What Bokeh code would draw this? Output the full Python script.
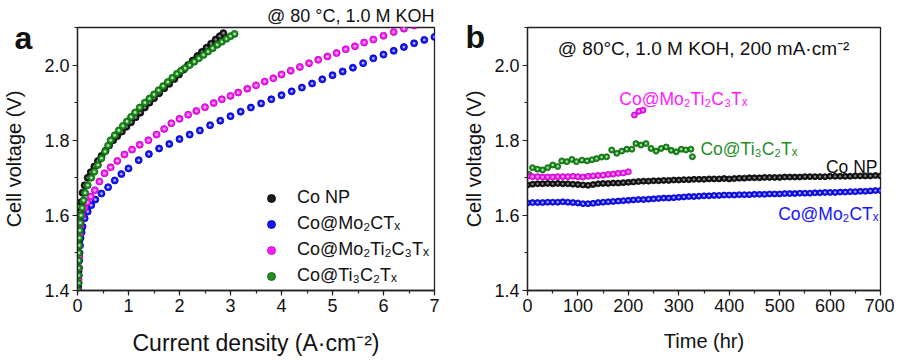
from bokeh.plotting import figure
from bokeh.layouts import row
from bokeh.models import (SingleIntervalTicker, Label, Legend, LegendItem, Range1d,
                          NumeralTickFormatter, Title)
from bokeh.embed import file_html
from bokeh.resources import INLINE

FONT = "Liberation Sans"

# ---------------- panel a : polarization curves ----------------
np_j = [0.015, 0.02, 0.025, 0.03, 0.035, 0.04, 0.05, 0.07, 0.10, 0.14, 0.20, 0.26, 0.33, 0.40,
        0.47, 0.55, 0.62, 0.70, 0.78, 0.87, 0.96, 1.05, 1.14, 1.23, 1.32, 1.41, 1.50, 1.60,
        1.70, 1.80, 1.90, 1.99, 2.08, 2.17, 2.26, 2.35, 2.44, 2.53, 2.62, 2.71, 2.79, 2.86]
np_v = [1.41, 1.45, 1.49, 1.53, 1.56, 1.59, 1.61, 1.635, 1.66, 1.68, 1.70, 1.715, 1.73, 1.745,
        1.758, 1.772, 1.786, 1.80, 1.811, 1.823, 1.836, 1.848, 1.861, 1.873, 1.887, 1.90, 1.912,
        1.925, 1.938, 1.95, 1.963, 1.975, 1.988, 2.00, 2.012, 2.024, 2.035, 2.046, 2.057, 2.068,
        2.077, 2.085]

mo_j = [0.02, 0.022, 0.025, 0.03, 0.035, 0.04, 0.05, 0.06, 0.08, 0.10, 0.14, 0.20, 0.27, 0.35,
        0.47, 0.60, 0.73, 0.86, 1.00, 1.20, 1.40, 1.60, 1.80, 2.00, 2.20, 2.40, 2.60, 2.80,
        3.00, 3.20, 3.40, 3.60, 3.80, 4.00, 4.20, 4.40, 4.60, 4.80, 5.00, 5.20, 5.40, 5.60,
        5.80, 6.00, 6.20, 6.40, 6.60, 6.80, 7.00]
mo_v = [1.40, 1.42, 1.44, 1.46, 1.48, 1.50, 1.52, 1.54, 1.555, 1.57, 1.592, 1.61, 1.627, 1.642,
        1.658, 1.675, 1.693, 1.71, 1.725, 1.747, 1.763, 1.778, 1.79, 1.803, 1.815, 1.826, 1.84,
        1.852, 1.864, 1.876, 1.887, 1.898, 1.909, 1.92, 1.93, 1.94, 1.951, 1.962, 1.973, 1.983,
        1.993, 2.005, 2.018, 2.028, 2.038, 2.048, 2.058, 2.067, 2.075]

mt_j = [0.02, 0.022, 0.025, 0.03, 0.035, 0.045, 0.06, 0.09, 0.14, 0.19, 0.26, 0.34, 0.43, 0.53,
        0.65, 0.78, 0.92, 1.07, 1.22, 1.39, 1.55, 1.70, 1.84, 2.00, 2.17, 2.33, 2.50, 2.67,
        2.83, 3.00, 3.15, 3.33, 3.50, 3.67, 3.84, 4.00, 4.18, 4.36, 4.54, 4.72, 4.90, 5.08,
        5.26, 5.44, 5.62, 5.80, 6.00, 6.20, 6.40, 6.60]
mt_v = [1.40, 1.43, 1.46, 1.49, 1.52, 1.55, 1.575, 1.60, 1.62, 1.635, 1.65, 1.667, 1.69, 1.712,
        1.728, 1.745, 1.762, 1.775, 1.788, 1.80, 1.815, 1.83, 1.845, 1.857, 1.868, 1.878, 1.888,
        1.899, 1.909, 1.918, 1.927, 1.937, 1.946, 1.956, 1.965, 1.975, 1.985, 1.995, 2.005,
        2.014, 2.023, 2.032, 2.042, 2.05, 2.06, 2.068, 2.078, 2.088, 2.097, 2.105]

ti_j = [0.015, 0.018, 0.02, 0.022, 0.025, 0.028, 0.032, 0.037, 0.045, 0.055, 0.07, 0.09, 0.12,
        0.15, 0.20, 0.27, 0.33, 0.40, 0.47, 0.54, 0.60, 0.65, 0.73, 0.81, 0.89, 0.97, 1.05,
        1.13, 1.22, 1.32, 1.41, 1.50, 1.59, 1.68, 1.77, 1.86, 1.95, 2.03, 2.11, 2.20, 2.29,
        2.38, 2.47, 2.56, 2.65, 2.74, 2.83, 2.92, 3.00, 3.08]
ti_v = [1.40, 1.42, 1.44, 1.46, 1.48, 1.50, 1.52, 1.54, 1.56, 1.58, 1.60, 1.62, 1.64, 1.66,
        1.68, 1.70, 1.716, 1.734, 1.752, 1.77, 1.786, 1.80, 1.813, 1.826, 1.838, 1.85, 1.862,
        1.874, 1.887, 1.90, 1.911, 1.922, 1.933, 1.944, 1.955, 1.966, 1.977, 1.985, 1.992,
        2.00, 2.009, 2.018, 2.027, 2.036, 2.045, 2.054, 2.062, 2.07, 2.077, 2.083]

# ---------------- panel b : stability ----------------
np_t = list(range(0, 701, 10))
np_s = [1.681, 1.683, 1.684, 1.684, 1.685, 1.684, 1.685, 1.684, 1.684, 1.683,
        1.682, 1.681, 1.680, 1.682, 1.684, 1.685, 1.685, 1.686, 1.686, 1.687,
        1.688, 1.689, 1.690, 1.691, 1.691, 1.692, 1.692, 1.693, 1.693, 1.694,
        1.694, 1.695, 1.695, 1.696, 1.696, 1.696, 1.697, 1.697, 1.697, 1.698,
        1.697, 1.698, 1.699, 1.699, 1.700, 1.700, 1.700, 1.701, 1.701, 1.701,
        1.701, 1.702, 1.702, 1.702, 1.702, 1.703, 1.703, 1.703, 1.703, 1.703,
        1.704, 1.704, 1.704, 1.704, 1.704, 1.705, 1.705, 1.705, 1.705, 1.706,
        1.705]

mo_t = list(range(0, 701, 10))
mo_s = [1.633, 1.634, 1.634, 1.634, 1.635, 1.635, 1.635, 1.636, 1.635, 1.634,
        1.633, 1.631, 1.631, 1.632, 1.634, 1.635, 1.636, 1.637, 1.638, 1.639,
        1.640, 1.641, 1.642, 1.642, 1.643, 1.644, 1.645, 1.646, 1.646, 1.647,
        1.648, 1.649, 1.650, 1.650, 1.651, 1.652, 1.652, 1.653, 1.653, 1.654,
        1.654, 1.654, 1.655, 1.655, 1.655, 1.656, 1.656, 1.656, 1.657, 1.657,
        1.657, 1.658, 1.658, 1.658, 1.659, 1.659, 1.659, 1.660, 1.660, 1.661,
        1.661, 1.661, 1.662, 1.662, 1.663, 1.663, 1.664, 1.664, 1.665, 1.666,
        1.666]

mt_t = [0, 10, 20, 30, 40, 50, 60, 70, 80, 90, 100, 110, 120, 130, 140, 150, 160, 170, 180,
        190, 200, 212, 221, 229]
mt_s = [1.704, 1.703, 1.703, 1.702, 1.702, 1.702, 1.703, 1.703, 1.703, 1.704, 1.703, 1.702,
        1.704, 1.705, 1.706, 1.707, 1.709, 1.710, 1.712, 1.713, 1.716, 1.867, 1.877, 1.880]

ti_t = [3, 10, 20, 30, 40, 50, 60, 68, 78, 88, 97, 108, 118, 128, 137, 147, 157, 167, 177, 187,
        197, 207, 215, 225, 235, 245, 255, 265, 275, 285, 295, 305, 314, 324, 327]
ti_s = [1.709, 1.727, 1.723, 1.721, 1.727, 1.734, 1.730, 1.745, 1.743, 1.749, 1.743, 1.747,
        1.745, 1.748, 1.751, 1.755, 1.756, 1.774, 1.765, 1.771, 1.776, 1.776, 1.791, 1.787,
        1.791, 1.778, 1.771, 1.778, 1.782, 1.773, 1.769, 1.776, 1.774, 1.776, 1.756]

labels = ["Co NP", "Co@Mo\u2082CT\u2093", "Co@Mo\u2082Ti\u2082C\u2083T\u2093", "Co@Ti\u2083C\u2082T\u2093"]

COL = {"np": ("#1a1a1a", "#000000", "#9a9a9a"),
       "mo": ("#1515ff", "#0000a8", "#c8c8ff"),
       "mt": ("#ff1aff", "#b000b0", "#ffd0ff"),
       "ti": ("#1f8f1f", "#0b5c0b", "#c8f0c8")}


def base_fig(x0, x1, xint, fw, bl, br, xlabel, ylab_standoff, xlab_size):
    p = figure(frame_width=fw, frame_height=263, output_backend="svg", toolbar_location=None,
               x_range=Range1d(x0, x1), y_range=Range1d(1.4, 2.1),
               min_border_left=bl, min_border_right=br, min_border_top=27, min_border_bottom=62)
    p.xgrid.visible = False
    p.ygrid.visible = False
    p.outline_line_color = "#222222"
    p.outline_line_width = 1.3
    p.outline_line_alpha = 1.0
    p.background_fill_color = "white"
    p.border_fill_color = "white"
    p.xaxis.ticker = SingleIntervalTicker(interval=xint, num_minor_ticks=2)
    p.yaxis.ticker = SingleIntervalTicker(interval=0.2, num_minor_ticks=2)
    p.yaxis.formatter = NumeralTickFormatter(format="0.0")
    for ax in (p.xaxis[0], p.yaxis[0]):
        ax.axis_line_color = "#222222"
        ax.axis_line_width = 1.3
        ax.major_tick_line_color = "#222222"
        ax.minor_tick_line_color = "#222222"
        ax.major_tick_line_width = 1.2
        ax.minor_tick_line_width = 1.2
        ax.major_tick_in = 0
        ax.major_tick_out = 5
        ax.minor_tick_in = 0
        ax.minor_tick_out = 3
        ax.major_label_text_font = FONT
        ax.major_label_text_font_size = "18px"
        ax.major_label_text_color = "#111111"
        ax.axis_label_text_font = FONT
        ax.axis_label_text_font_size = "20px"
        ax.axis_label_text_font_style = "normal"
        ax.axis_label_text_color = "#111111"
        ax.major_label_standoff = 3
    p.xaxis.axis_label = xlabel
    p.xaxis.axis_label_text_font_size = xlab_size
    p.xaxis.axis_label_standoff = 15
    p.yaxis.axis_label = "Cell voltage (V)"
    p.yaxis.axis_label_standoff = ylab_standoff
    return p


def dots(p, x, y, key, size):
    fill, edge, hi = COL[key]
    r = p.scatter(x, y, size=size, marker="circle", fill_color=fill, line_color=edge,
                  line_width=0.8)
    p.scatter(x, y, size=size * 0.38, marker="circle", fill_color=hi, fill_alpha=0.9,
              line_alpha=0)
    return r


def txt(p, x, y, s, color="#111111", size="17.5px", align="left"):
    p.add_layout(Label(x=x, y=y, text=s, text_font=FONT, text_font_size=size,
                       text_color=color, text_align=align, text_baseline="alphabetic"))


def panel_letter(p, s, offset, standoff):
    p.add_layout(Title(text=s, align="left", offset=offset, standoff=standoff, text_font=FONT,
                       text_font_size="32px", text_font_style="bold", text_color="#111111"),
                 "above")


# ---- figure a ----
pa = base_fig(0, 7, 1, 357, 76, 26, "Current density (A\u00b7cm\u207b\u00b2)", 16, "23px")
pa.add_layout(Title(text="@ 80 \u00b0C, 1.0 M KOH", align="right", text_font=FONT,
                    text_font_size="18px", text_font_style="normal", text_color="#111111",
                    standoff=3), "above")
panel_letter(pa, "a", -63, -106)
r1 = dots(pa, np_j, np_v, "np", 7)
r2 = dots(pa, mo_j, mo_v, "mo", 7)
r3 = dots(pa, mt_j, mt_v, "mt", 7)
r4 = dots(pa, ti_j, ti_v, "ti", 7)

leg = Legend(items=[LegendItem(label=labels[0], renderers=[r1]),
                    LegendItem(label=labels[1], renderers=[r2]),
                    LegendItem(label=labels[2], renderers=[r3]),
                    LegendItem(label=labels[3], renderers=[r4])],
             location=(184, 4), background_fill_alpha=0, border_line_alpha=0,
             padding=0, margin=0, spacing=5, glyph_width=20, glyph_height=20,
             label_height=20, label_standoff=16, label_text_font=FONT,
             label_text_font_size="18px", label_text_color="#111111")
pa.add_layout(leg)

# ---- figure b ----
pb = base_fig(0, 700, 100, 353, 66, 14, "Time (hr)", 6, "20px")
panel_letter(pb, "b", -62, -54)
dots(pb, ti_t, ti_s, "ti", 6)
dots(pb, mt_t, mt_s, "mt", 6)
dots(pb, np_t, np_s, "np", 6)
dots(pb, mo_t, mo_s, "mo", 6)

txt(pb, 60, 2.043, "@ 80\u00b0C, 1.0 M KOH, 200 mA\u00b7cm\u207b\u00b2", size="19px")
txt(pb, 182, 1.909, labels[2], color="#ff1aff")
txt(pb, 343, 1.776, labels[3], color="#1f8f1f")
txt(pb, 694, 1.728, labels[0], align="right")
txt(pb, 696, 1.603, labels[1], color="#1515ff", align="right")

layout = row(pa, pb)
open("out.html", "w").write(file_html(layout, INLINE))
